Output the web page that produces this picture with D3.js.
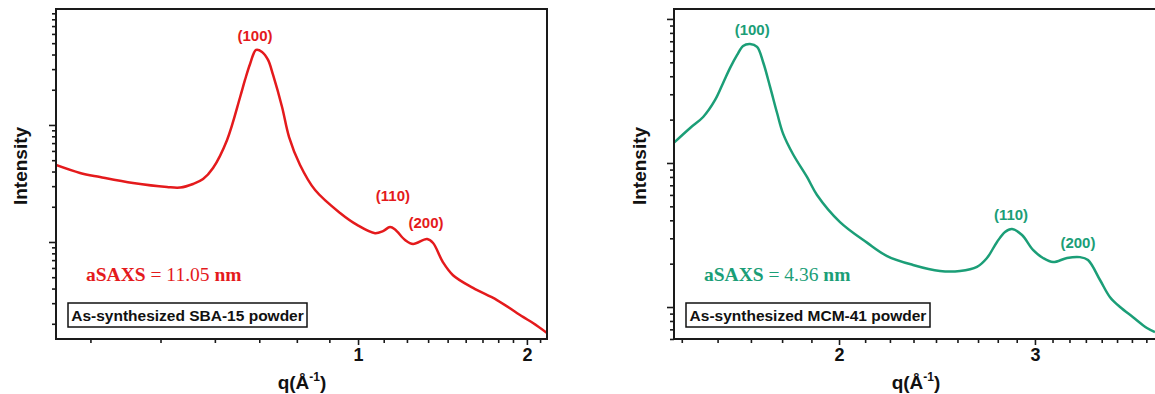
<!DOCTYPE html>
<html>
<head>
<meta charset="utf-8">
<script src="https://cdn.jsdelivr.net/npm/d3@7"></script>
<style>
  body { margin: 0; background: #fff; }
  svg { display: block; overflow: hidden; }
  .lbl { font-family: "Liberation Sans", Arial, sans-serif; font-weight: bold; }
  .ser { font-family: "Liberation Serif", "Times New Roman", serif; }
</style>
</head>
<body>
<svg id="chart" width="1155" height="394"></svg>
<script>
// SBA-15 scattering curve
const sbaQ = [0.2894,0.3194,0.3468,0.3971,0.4565,0.4818,0.5080,0.5293,0.5514,0.5841,0.6163,0.6287,0.6419,0.6580,0.6743,0.6911,0.7055,0.7320,0.7534,0.7881,0.8383,0.9288,0.9959,1.0723,1.108,1.1402,1.1640,1.2128,1.2534,1.3274,1.3606,1.4174,1.4767,1.6032,1.7689,1.968,2.0503,2.172];
const sbaI = [455,389,359,319,295,292,313,345,429,745,1734,2425,3319,4375,4207,3594,2674,1425,789,455,278,177,140,119,124,134,128,104,96,106,98,67,52,40.5,31.9,22.9,20.3,16.7];

// MCM-41 scattering curve
const mcmQ = [1.4214,1.4697,1.5098,1.5476,1.5735,1.5964,1.6198,1.6398,1.6636,1.6880,1.7091,1.7341,1.7594,1.7813,1.8185,1.8717,1.9109,2.0041,2.1193,2.2091,2.3307,2.4645,2.5687,2.6607,2.7165,2.7736,2.8197,2.8610,2.9208,2.9880,3.0505,3.1143,3.2060,3.2930,3.3480,3.4324,3.5044,3.5778,3.6754,3.7826,3.8459];
const mcmI = [1384,1750,2085,2738,3594,4571,5623,6494,6700,6394,5023,3374,2222,1600,1150,800,600,389,280,226,196,178,178,190,219,283,332,348,316,249,219,205,219,222,212,154,117,100,85,71.5,67];

// Reflection labels (text, q, intensity at label baseline)
const sbaPeakText = ["(100)", "(110)", "(200)"];
const sbaPeakQ = [0.655, 1.154, 1.322];
const sbaPeakI = [5224, 224, 132];
const mcmPeakText = ["(100)", "(110)", "(200)"];
const mcmPeakQ = [1.671, 2.855, 3.279];
const mcmPeakI = [7745, 402, 257];

// Axis ranges and labelled ticks
const sbaQDomain = [0.2894, 2.172];
const sbaIDomain = [Math.pow(10, 1.171), Math.pow(10, 3.991)];
const mcmQDomain = [1.4214, 3.87];
const mcmIDomain = [Math.pow(10, 1.778), Math.pow(10, 4.069)];
const sbaXTicks = [1, 2];
const mcmXTicks = [2, 3];

const panels = [
  { q: sbaQ, I: sbaI, qDom: sbaQDomain, iDom: sbaIDomain, xTicks: sbaXTicks,
    color: "#e41a1c", left: 56, right: 547, peaks: [sbaPeakText, sbaPeakQ, sbaPeakI],
    value: "11.05", sample: "As-synthesized SBA-15 powder", ylabX: 20, xlabX: 302,
    noteX: 86, boxX: 68, boxW: 239 },
  { q: mcmQ, I: mcmI, qDom: mcmQDomain, iDom: mcmIDomain, xTicks: mcmXTicks,
    color: "#1b9e77", left: 674, right: 1158, peaks: [mcmPeakText, mcmPeakQ, mcmPeakI],
    value: "4.36", sample: "As-synthesized MCM-41 powder", ylabX: 639, xlabX: 916,
    noteX: 704, boxX: 686, boxW: 244 }
];

const plotTop = 9, plotBottom = 339;
const svg = d3.select("#chart");
const axisColor = "#1a1a1a";

panels.forEach((p, pi) => {
  const x = d3.scaleLog().domain(p.qDom).range([p.left, p.right]);
  const y = d3.scaleLog().domain(p.iDom).range([plotBottom, plotTop]);
  const g = svg.append("g");

  // minor x ticks: eight per unit interval
  const xMinor = [];
  for (let n = 0; n < 5; n++) for (let k = 1; k < 9; k++) {
    const v = n + k / 9;
    if (v >= p.qDom[0] && v <= p.qDom[1]) xMinor.push(v);
  }
  // y ticks: decades and 2..9 multiples
  const yMajor = [], yMinor = [];
  for (let e = 0; e <= 5; e++) {
    const d = Math.pow(10, e);
    if (d >= p.iDom[0] && d <= p.iDom[1]) yMajor.push(d);
    for (let m = 2; m <= 9; m++) {
      const v = m * d;
      if (v >= p.iDom[0] && v <= p.iDom[1]) yMinor.push(v);
    }
  }

  const styleAxis = a => {
    a.select(".domain").remove();
    a.selectAll(".tick line").attr("stroke", axisColor).attr("stroke-width", 1.6);
  };

  g.append("g").attr("transform", `translate(0,${plotBottom})`)
    .call(d3.axisBottom(x).tickValues(xMinor).tickSize(4).tickFormat(""))
    .call(styleAxis);
  g.append("g").attr("transform", `translate(0,${plotBottom})`)
    .call(d3.axisBottom(x).tickValues(p.xTicks).tickSize(6).tickPadding(3).tickFormat(d3.format("d")))
    .call(styleAxis)
    .call(a => a.selectAll("text").attr("class", "lbl").attr("font-size", 18).attr("fill", "#111"));

  g.append("g").attr("transform", `translate(${p.left},0)`)
    .call(d3.axisLeft(y).tickValues(yMinor).tickSize(4).tickFormat(""))
    .call(styleAxis);
  g.append("g").attr("transform", `translate(${p.left},0)`)
    .call(d3.axisLeft(y).tickValues(yMajor).tickSize(7).tickFormat(""))
    .call(styleAxis);

  // curve, clipped to plot area
  const clipId = "clip" + pi;
  svg.append("clipPath").attr("id", clipId).append("rect")
    .attr("x", p.left).attr("y", plotTop).attr("width", p.right - p.left).attr("height", plotBottom - plotTop);
  const pts = p.q.map((q, i) => [q, p.I[i]]);
  g.append("path")
    .attr("clip-path", `url(#${clipId})`)
    .attr("d", d3.line().x(d => x(d[0])).y(d => y(d[1])).curve(d3.curveCatmullRom.alpha(0.5))(pts))
    .attr("fill", "none").attr("stroke", p.color).attr("stroke-width", 2.5)
    .attr("stroke-linejoin", "round");

  // frame
  g.append("rect").attr("x", p.left).attr("y", plotTop)
    .attr("width", p.right - p.left).attr("height", plotBottom - plotTop)
    .attr("fill", "none").attr("stroke", axisColor).attr("stroke-width", 2);

  // reflection labels
  const [pt, pq, pI] = p.peaks;
  pt.forEach((t, i) => {
    g.append("text").attr("class", "lbl").attr("x", x(pq[i])).attr("y", y(pI[i]))
      .attr("text-anchor", "middle").attr("font-size", 15).attr("fill", p.color).text(t);
  });

  // lattice parameter note
  const note = g.append("text").attr("class", "ser").attr("x", p.noteX).attr("y", 281)
    .attr("font-size", 19.5).attr("fill", p.color);
  note.append("tspan").attr("font-weight", "bold").text("aSAXS");
  note.append("tspan").text(" = " + p.value + " ");
  note.append("tspan").attr("font-weight", "bold").text("nm");

  // sample box
  g.append("rect").attr("x", p.boxX).attr("y", 303).attr("width", p.boxW).attr("height", 24)
    .attr("fill", "#fff").attr("stroke", "#111").attr("stroke-width", 1.5);
  g.append("text").attr("class", "lbl").attr("x", p.boxX + p.boxW / 2).attr("y", 320.5)
    .attr("text-anchor", "middle").attr("font-size", 15.5).attr("fill", "#111").text(p.sample);

  // axis titles
  g.append("text").attr("class", "lbl").attr("font-size", 19).attr("fill", "#111")
    .attr("text-anchor", "middle")
    .attr("transform", `translate(${p.ylabX + 7},166) rotate(-90)`).text("Intensity");
  const xl = g.append("text").attr("class", "lbl").attr("font-size", 19).attr("fill", "#111")
    .attr("text-anchor", "middle").attr("x", p.xlabX).attr("y", 389);
  xl.append("tspan").text("q(Å");
  xl.append("tspan").attr("font-size", 12).attr("dy", -8).text("-1");
  xl.append("tspan").attr("dy", 8).text(")");
});
</script>
</body>
</html>
